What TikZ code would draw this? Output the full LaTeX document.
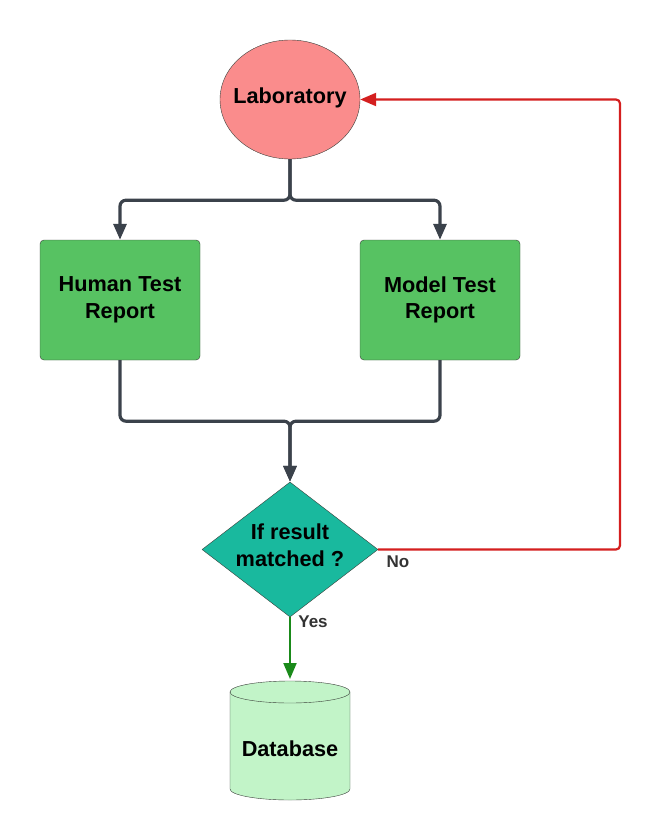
\documentclass[tikz,border=0pt]{standalone}
\usepackage{fontspec}
\setmainfont{Liberation Sans}
\usetikzlibrary{shapes.geometric,arrows.meta}
\definecolor{labred}{HTML}{FA8C8C}
\definecolor{repgreen}{HTML}{57C262}
\definecolor{decteal}{HTML}{19B99E}
\definecolor{dbgreen}{HTML}{C2F4C8}
\definecolor{wire}{HTML}{3B424B}
\definecolor{nored}{HTML}{D41F1F}
\definecolor{yesgreen}{HTML}{1A8A1A}
\definecolor{edge}{HTML}{3A3F3A}
\begin{document}
\begin{tikzpicture}[x=1pt,y=-1pt,
  every node/.style={font=\bfseries\fontsize{21.7}{26.5}\selectfont, align=center},
  lab/.style={ellipse, draw=edge, fill=labred, minimum width=140pt, minimum height=119pt, inner sep=0pt},
  report/.style={rectangle, rounded corners=4pt, draw=edge, fill=repgreen, minimum width=160pt, minimum height=120pt},
  decide/.style={diamond, draw=edge, fill=decteal, minimum width=176pt, minimum height=135pt, inner sep=0pt},
  lbl/.style={font=\bfseries\fontsize{17}{19}\selectfont, text=black!80},
  tip/.style={-{Triangle[length=16pt,width=13pt]}},
  flow/.style={draw=wire, line width=3.2pt, rounded corners=6pt, tip},
  ]
\useasboundingbox (0,0) rectangle (660,840); % рамка картинки
\node[lab] (lab) at (290,99.5) {};
\node (labtxt) at (290,98) {Laboratory};
\node[report] (human) at (120,300) {Human Test\\Report};
\node[report] (model) at (440,300) {Model Test\\Report};
\node[decide] (dec) at (290,549.5) {};
\node (dectxt) at (290,545) {If result\\matched ?};
% цилиндр базы данных
\draw[edge, fill=dbgreen] (230,692) -- (230,789) arc[start angle=180, end angle=0, x radius=60, y radius=11]
      -- (350,692) -- cycle;
\draw[edge, fill=dbgreen] (290,692) ellipse[x radius=60, y radius=11];
\node (db) at (290,749) {Database};
\coordinate (dbtop) at (290,679);
\coordinate (loop) at (620,99.5);
% связи
\draw[flow] (lab.south) -- ++(0,41) -| (human.north);
\draw[flow] (lab.south) -- ++(0,41) -| (model.north);
\draw[flow] (human.south) -- ++(0,61) -| (dec.north);
\draw[flow] (model.south) -- ++(0,61) -| (dec.north);
\draw[nored, line width=2.2pt, rounded corners=4pt, tip] (dec.east) -| (loop) -- (lab.east); % ветка "нет"
\draw[yesgreen, line width=2pt, tip] (dec.south) -- (dbtop); % ветка "да"
\node[lbl] (nolbl) at (398,562) {No};
\node[lbl] (yeslbl) at (313,622) {Yes};
\end{tikzpicture}
\end{document}
